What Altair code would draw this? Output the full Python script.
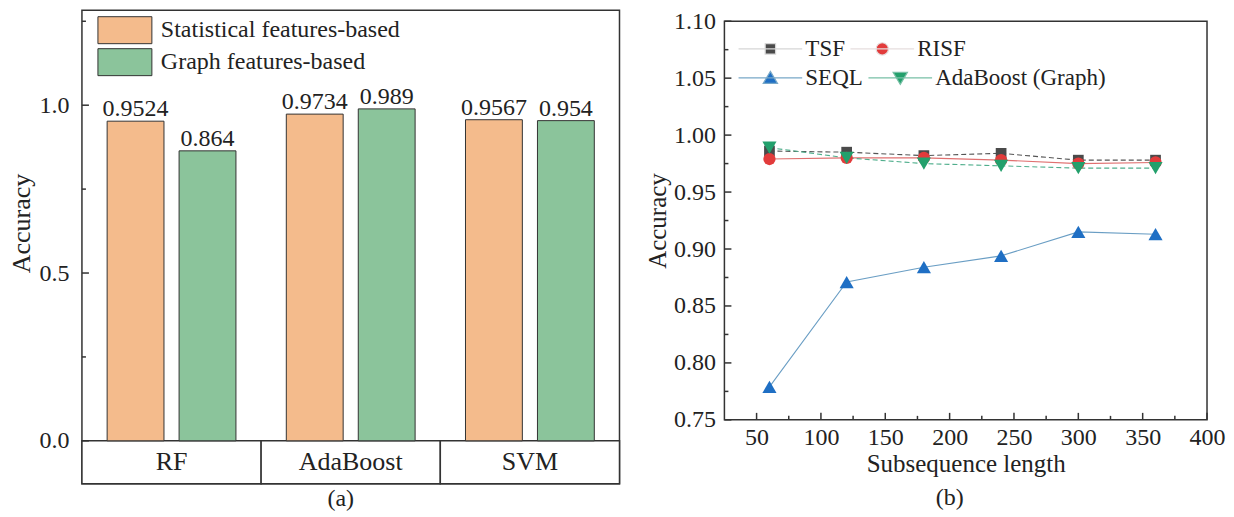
import altair as alt
import pandas as pd

FONT = "Liberation Serif"
INK = "#222222"
FRAME = "#333333"

# ---------------- panel (a) data ----------------
models = ["RF", "AdaBoost", "SVM"]
features = ["Statistical features-based", "Graph features-based"]
stat_acc = [0.9524, 0.9734, 0.9567]
graph_acc = [0.864, 0.989, 0.954]
stat_text = ["0.9524", "0.9734", "0.9567"]
graph_text = ["0.864", "0.989", "0.954"]
bar_colors = ["#F4BB8C", "#8BC49B"]
a_major = [0.0, 0.5, 1.0]
a_minor = [0.25, 0.75, 1.25]

# ---------------- panel (b) data ----------------
lengths = [60, 120, 180, 240, 300, 360]
series = ["TSF", "RISF", "SEQL", "AdaBoost (Graph)"]
tsf = [0.986, 0.985, 0.982, 0.984, 0.978, 0.978]
risf = [0.979, 0.980, 0.980, 0.978, 0.975, 0.976]
seql = [0.779, 0.871, 0.884, 0.894, 0.915, 0.913]
ada = [0.989, 0.980, 0.975, 0.973, 0.971, 0.971]
marker_colors = ["#4a4a4a", "#e23b3b", "#1f6fc4", "#23a06c"]
line_colors = ["#555555", "#e07070", "#6a9ec4", "#4fae8c"]
legend_line_colors = ["#d6d6d6", "#e6dede", "#78a8c8", "#78c0a6"]
b_xmajor = [50, 100, 150, 200, 250, 300, 350, 400]
b_xminor = [75, 125, 175, 225, 275, 325, 375]
b_ymajor = [0.75, 0.80, 0.85, 0.90, 0.95, 1.00, 1.05, 1.10]
b_yminor = [0.775, 0.825, 0.875, 0.925, 0.975, 1.025, 1.075]

# ---------------- panel (a) ----------------
df_a = pd.DataFrame({
    "model": models + models,
    "feature": [features[0]] * 3 + [features[1]] * 3,
    "acc": stat_acc + graph_acc,
    "txt": stat_text + graph_text,
})
df_m = pd.DataFrame({"model": models})

A_W, A_H = 538, 474
A_LO, A_HI = -0.128, 1.283
ya_scale = alt.Scale(domain=[A_LO, A_HI], nice=False, zero=False)
ya_axis = alt.Axis(values=a_major, format=".1f", ticks=False, domain=False, grid=False,
                   labelFont=FONT, labelFontSize=24, labelColor=INK, labelPadding=13,
                   title="Accuracy", titleFont=FONT, titleFontSize=26,
                   titleFontWeight="normal", titleColor=INK, titlePadding=4, titleY=213)
xa = alt.X("model:N", sort=models,
           scale=alt.Scale(domain=models, paddingInner=0, paddingOuter=0), axis=None)
xoff = alt.XOffset("feature:N", sort=features,
                   scale=alt.Scale(domain=features, paddingInner=0.21, paddingOuter=0.35))

strip = alt.Chart(df_m).mark_rect(fill="white", stroke=FRAME, strokeWidth=1.5).encode(
    x=xa,
    y=alt.YDatum(A_LO, scale=ya_scale, axis=ya_axis),
    y2=alt.Y2Datum(0),
)
bars = alt.Chart(df_a).mark_bar(stroke=FRAME, strokeWidth=1, opacity=1).encode(
    x=xa, xOffset=xoff,
    y=alt.Y("acc:Q", scale=ya_scale, axis=ya_axis),
    y2=alt.Y2Datum(0),
    color=alt.Color("feature:N", sort=features,
                    scale=alt.Scale(domain=features, range=bar_colors),
                    legend=alt.Legend(title=None, orient="none", legendX=16, legendY=6,
                                      direction="vertical",
                                      symbolType="M-2,-1H2V1H-2Z", symbolSize=729,
                                      symbolOffset=13,
                                      symbolStrokeColor=FRAME, symbolStrokeWidth=1,
                                      symbolOpacity=1, labelFont=FONT, labelFontSize=24,
                                      labelColor=INK, labelOffset=22, rowPadding=0,
                                      labelLimit=0)),
)
vals = alt.Chart(df_a).mark_text(font=FONT, fontSize=24, color=INK,
                                 baseline="alphabetic", dy=-5).encode(
    x=xa, xOffset=xoff,
    y=alt.Y("acc:Q", scale=ya_scale, axis=ya_axis),
    text="txt:N",
)
strip_text = alt.Chart(df_m).mark_text(font=FONT, fontSize=26, color=INK,
                                       baseline="middle").encode(
    x=xa,
    y=alt.YDatum(A_LO / 2, scale=ya_scale, axis=ya_axis),
    text="model:N",
)
major_a = alt.Chart(pd.DataFrame({"acc": a_major})).mark_rule(
    color=FRAME, strokeWidth=1.5).encode(
    y=alt.Y("acc:Q", scale=ya_scale, axis=ya_axis), x=alt.value(0), x2=alt.value(7))
minor_a = alt.Chart(pd.DataFrame({"acc": a_minor})).mark_rule(
    color=FRAME, strokeWidth=1.5).encode(
    y=alt.Y("acc:Q", scale=ya_scale, axis=ya_axis), x=alt.value(0), x2=alt.value(4))

panel_a = alt.layer(strip, bars, vals, strip_text, major_a, minor_a).properties(
    width=A_W, height=A_H,
    title=alt.TitleParams("(a)", orient="bottom", frame="group", dx=-10, offset=2,
                          font=FONT, fontSize=24, fontWeight="normal", color=INK),
)

# ---------------- panel (b) ----------------
df_b = pd.DataFrame({
    "length": lengths * 4,
    "series": [s for s in series for _ in lengths],
    "acc": tsf + risf + seql + ada,
})
B_W, B_H = 483, 399
xb_axis = alt.Axis(values=b_xmajor, ticks=False, domain=False, grid=False,
                   labelFlush=False, labelOverlap=False, labelFont=FONT, labelFontSize=24,
                   labelColor=INK, labelPadding=6, title="Subsequence length",
                   titleFont=FONT, titleFontSize=25, titleFontWeight="normal",
                   titleColor=INK, titlePadding=2)
yb_axis = alt.Axis(values=b_ymajor, format=".2f", ticks=False, domain=False, grid=False,
                   labelFlush=False, labelOverlap=False, labelFont=FONT, labelFontSize=24,
                   labelColor=INK, labelPadding=9, title="Accuracy", titleFont=FONT,
                   titleFontSize=25, titleFontWeight="normal", titleColor=INK,
                   titlePadding=3)
xs_b = alt.Scale(domain=[25, 400], nice=False, zero=False)
ys_b = alt.Scale(domain=[0.75, 1.10], nice=False, zero=False)
xb = alt.X("length:Q", scale=xs_b, axis=xb_axis)
yb = alt.Y("acc:Q", scale=ys_b, axis=yb_axis)

dashes = [[5, 3], None, None, [5, 3]]
plot_shapes = ["square", "circle", "triangle-up", "triangle-down"]
plot_sizes = [115, 150, 200, 200]

line_layers = []
point_layers = []
for i, s in enumerate(series):
    kw = dict(color=line_colors[i], strokeWidth=1.1)
    if dashes[i]:
        kw["strokeDash"] = dashes[i]
    line_layers.append(
        alt.Chart(df_b).transform_filter(alt.datum.series == s).mark_line(**kw).encode(
            x=xb, y=yb))
    point_layers.append(
        alt.Chart(df_b).transform_filter(alt.datum.series == s).mark_point(
            shape=plot_shapes[i], size=plot_sizes[i], filled=True, fill=marker_colors[i],
            opacity=1, strokeWidth=0).encode(x=xb, y=yb))

LINE = "M-4.9,0H4.9"
legend_paths = [
    LINE + "M-0.8,-0.8H0.8V0.8H-0.8Z",
    LINE + "M-0.95,0A0.95,0.95 0 1,0 0.95,0A0.95,0.95 0 1,0 -0.95,0Z",
    LINE + "M0,-1L1.1,0.85L-1.1,0.85Z",
    LINE + "M0,1L1.1,-0.85L-1.1,-0.85Z",
]


def legend_row(idx, y):
    # one legend per legend row, placed from panel (b)'s plot origin
    names = [series[i] for i in idx]
    leg = alt.Legend(title=None, orient="none", legendX=14, legendY=y,
                     direction="horizontal", columnPadding=2,
                     symbolSize=169, symbolOffset=20.5,
                     symbolStrokeWidth=1.2, symbolOpacity=1, labelFont=FONT,
                     labelFontSize=23, labelColor=INK, labelOffset=23.5, labelLimit=0)
    return alt.Chart(df_b).transform_filter("false").mark_point(
        filled=True, size=169).encode(
        x=xb, y=yb,
        shape=alt.Shape("series:N", sort=names,
                        scale=alt.Scale(domain=names,
                                        range=[legend_paths[i] for i in idx]),
                        legend=leg),
        fill=alt.Fill("series:N", sort=names,
                      scale=alt.Scale(domain=names,
                                      range=[marker_colors[i] for i in idx]),
                      legend=leg),
        stroke=alt.Stroke("series:N", sort=names,
                          scale=alt.Scale(domain=names,
                                          range=[legend_line_colors[i] for i in idx]),
                          legend=leg),
    )


legend_r1 = legend_row([0, 1], 16)
legend_r2 = legend_row([2, 3], 45)

major_bx = alt.Chart(pd.DataFrame({"length": b_xmajor})).mark_rule(
    color=FRAME, strokeWidth=1.5).encode(x=xb, y=alt.value(B_H), y2=alt.value(B_H - 7))
minor_bx = alt.Chart(pd.DataFrame({"length": b_xminor})).mark_rule(
    color=FRAME, strokeWidth=1.5).encode(x=xb, y=alt.value(B_H), y2=alt.value(B_H - 4))
major_by = alt.Chart(pd.DataFrame({"acc": b_ymajor})).mark_rule(
    color=FRAME, strokeWidth=1.5).encode(y=yb, x=alt.value(0), x2=alt.value(7))
minor_by = alt.Chart(pd.DataFrame({"acc": b_yminor})).mark_rule(
    color=FRAME, strokeWidth=1.5).encode(y=yb, x=alt.value(0), x2=alt.value(4))

panel_b = alt.layer(*line_layers, *point_layers, legend_r1, legend_r2,
                    major_bx, minor_bx, major_by, minor_by).resolve_scale(
    shape="independent", fill="independent", stroke="independent"
).properties(
    width=B_W, height=B_H,
    title=alt.TitleParams("(b)", orient="bottom", frame="group", dx=-16, offset=9,
                          font=FONT, fontSize=24, fontWeight="normal", color=INK),
)

spacer = alt.Chart(df_m).mark_point(opacity=0).encode(
    x=alt.value(0), y=alt.value(0)
).properties(width=B_W, height=1, view=alt.ViewBackground(stroke="transparent"))

col_b = alt.VConcatChart(vconcat=[spacer, panel_b], spacing=10, bounds="flush")

chart = alt.hconcat(panel_a, col_b, spacing=23).properties(
    padding={"left": 0, "top": -2, "right": 0, "bottom": 0},
    background="white",
).configure_view(stroke=FRAME, strokeWidth=1.5)

chart.save("out.html", embed_options={"renderer": "svg", "actions": False})
